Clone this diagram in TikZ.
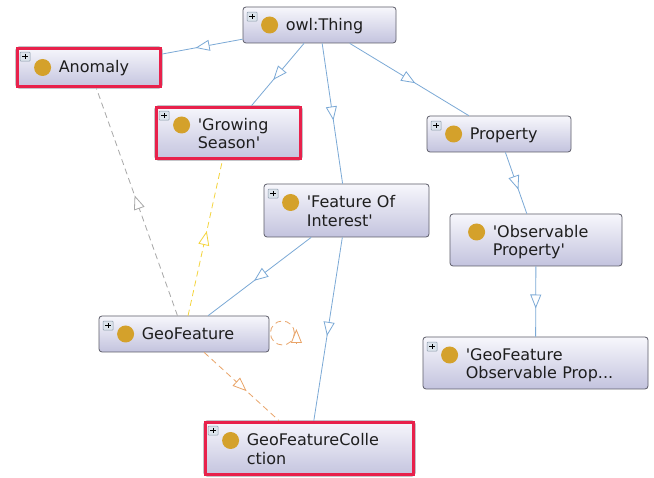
\documentclass[tikz,border=0pt]{standalone}
\usepackage{fontspec}
\setmainfont{DejaVu Sans}
\usetikzlibrary{arrows.meta,decorations.markings,calc}

\definecolor{boxtop}{HTML}{F7F7FC}
\definecolor{boxbot}{HTML}{C3C3DE}
\definecolor{boxline}{HTML}{5C5C68}
\definecolor{dotgold}{HTML}{D4A12B}
\definecolor{hilite}{HTML}{E8214B}
\definecolor{isaBlue}{HTML}{7BA9D6}
\definecolor{relGray}{HTML}{A8A8A8}
\definecolor{relYellow}{HTML}{F4D43C}
\definecolor{relOrange}{HTML}{E9A468}
\definecolor{iconfill}{HTML}{DCE4EC}
\definecolor{iconline}{HTML}{8A9AAA}
\definecolor{labeltext}{HTML}{1E1E1E}

\newcommand\q{\textquotesingle}

\tikzset{
  cls/.style 2 args={draw=boxline, line width=0.8pt, rounded corners=3pt,
    top color=boxtop, bottom color=boxbot,
    minimum width=#1, minimum height=#2, inner sep=0pt},
  lbl/.style={anchor=base west, inner sep=0pt, text width=170pt, align=left,
    font=\fontsize{16pt}{18.5pt}\selectfont, text=labeltext},
  opentri/.tip={Triangle[length=14pt,width=11pt,fill=white]},
  midtri/.style={postaction={decorate}, decoration={markings,
    mark=at position 0.5 with {\arrow[xshift=7pt]{opentri}}}},
  isa/.style={draw=isaBlue, line width=0.8pt, midtri},
  rel/.style={draw=#1, line width=0.8pt, dash pattern=on 6pt off 4pt, midtri},
  frame/.style={draw=hilite, line width=3.5pt}
}

% class box: name, centre x, centre y, width, height, label, dot offset
\newcommand\classnode[7]{%
  \node[cls={#4pt}{#5pt}] (#1) at (#2,#3) {};
  \fill[dotgold] ($(#1.west)+(27,#7)$) circle (8.5pt);
  \node[lbl] at ($(#1.west)+(43,{#7+5.5})$) {#6};
}
% expand icon in the top left corner of a box
\newcommand\plusicon[1]{%
  \draw[iconline, fill=iconfill, line width=0.5pt, rounded corners=0.8pt]
    ($(#1.north west)+(4.5,5.5)$) rectangle ++(10,9);
  \draw[black, line width=1pt] ($(#1.north west)+(6.8,10)$) -- ++(5.4,0);
  \draw[black, line width=1pt] ($(#1.north west)+(9.5,7.3)$) -- ++(0,5.4);
}
% red highlight drawn on the border of a box
\newcommand\highlight[1]{%
  \draw[frame] ($(#1.north west)+(1.75,1.75)$) rectangle ($(#1.south east)+(-1.75,-1.75)$);
}

\begin{document}
\begin{tikzpicture}[x=1pt, y=-1pt]
  \useasboundingbox[fill=white] (0,0) rectangle (654,478);

  \classnode{thing}{319.5}{25}{153}{36}{owl:Thing}{0}
  \classnode{anomaly}{89}{67.5}{146}{41}{Anomaly}{0}
  \classnode{growing}{228.5}{133}{147}{54}{\q Growing\\Season\q}{-8}
  \classnode{property}{499}{134}{144}{36}{Property}{0}
  \classnode{foi}{346.5}{210.5}{165}{53}{\q Feature Of\\Interest\q}{-8}
  \classnode{obsprop}{536}{240}{172}{52}{\q Observable\\Property\q}{-8}
  \classnode{gfop}{535.5}{363}{225}{52}{\q GeoFeature\\Observable Prop...}{-8}
  \classnode{geofeat}{184}{334}{170}{36}{GeoFeature}{0}
  \classnode{gfc}{309.5}{448.5}{211}{55}{GeoFeatureColle\\ction}{-8}

  \highlight{anomaly}
  \highlight{growing}
  \highlight{gfc}

  \foreach \n in {thing,anomaly,growing,property,foi,gfop,geofeat,gfc}
    {\plusicon{\n}}

  % subclass links
  \draw[isa] (thing) -- (anomaly);
  \draw[isa] (thing) -- (growing);
  \draw[isa] (thing) -- (foi);
  \draw[isa] (thing) -- (property);
  \draw[isa] (foi) -- (geofeat);
  \draw[isa] (foi) -- (gfc);
  \draw[isa] (property) -- (obsprop);
  \draw[isa] (obsprop) -- (gfop);

  % object property links
  \draw[rel=relGray] (geofeat) -- (anomaly);
  \draw[rel=relYellow] (geofeat) -- (growing);
  \draw[rel=relOrange] (geofeat) -- (gfc);

  % self link on GeoFeature
  \coordinate (loopc) at ($(geofeat.east)+(13,-1)$);
  \draw[relOrange, line width=0.8pt, dash pattern=on 6pt off 4pt] (loopc) circle (12pt);
  \coordinate (loopa) at ($(loopc)+(14,10)$);
  \coordinate (loopb) at ($(loopc)+(14,-4)$);
  \draw[relOrange, line width=0.8pt, -opentri] (loopa) -- (loopb);
\end{tikzpicture}
\end{document}
